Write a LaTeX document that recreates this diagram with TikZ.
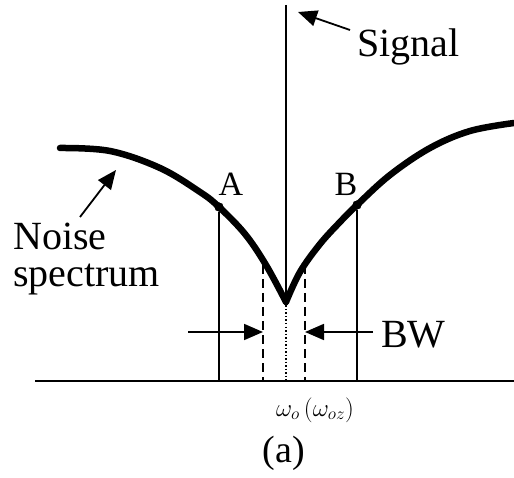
\documentclass[tikz,border=0pt]{standalone}
\usepackage{fontspec}
\setmainfont{Liberation Serif}
\usetikzlibrary{arrows.meta}
\begin{document}
\begin{tikzpicture}[x=1pt,y=-1pt,
  thinline/.style={line width=1.8pt},
  curve/.style={line width=6.5pt,line cap=round,line join=round},
  arr/.style={thinline,-{Triangle[length=19pt,width=16pt]}},
  lbl/.style={font=\rmfamily\fontsize{40}{37}\selectfont,inner sep=0pt},
  ptlbl/.style={font=\rmfamily\fontsize{34}{38}\selectfont,inner sep=0pt},
  dot/.style={circle,fill=black,inner sep=0pt,minimum size=9pt}]
\useasboundingbox (0,0) rectangle (514,478);
% key points
\coordinate (L0) at (35,381);
\coordinate (R0) at (514,381);
\coordinate (top) at (286,5);
\coordinate (notch) at (286,302);
\coordinate (base) at (286,381);
\node[dot] (A) at (219,207) {};
\node[dot] (B) at (357,205) {};
\coordinate (Abase) at (219,381);
\coordinate (Bbase) at (357,381);
\coordinate (dLt) at (263,265);
\coordinate (dLb) at (263,381);
\coordinate (dRt) at (305,265);
\coordinate (dRb) at (305,381);
% baseline
\draw[thinline] (L0) -- (R0);
% signal line
\draw[thinline] (top) -- (notch);
\draw[line width=1.5pt,dotted] (notch) -- (base);
% A, B verticals
\draw[thinline] (A) -- (Abase);
\draw[thinline] (B) -- (Bbase);
% dashed bandwidth lines
\draw[thinline,dash pattern=on 9pt off 5pt] (dLt) -- (dLb);
\draw[thinline,dash pattern=on 9pt off 5pt] (dRt) -- (dRb);
% noise spectrum
\draw[curve] plot[smooth,tension=0.6] coordinates {(60,148) (110,151) (160,168) (200,192) (219,207) (245,234) (266,265) (286,302)};
\draw[curve] plot[smooth,tension=0.6] coordinates {(286,302) (300,272) (320,244) (340,222) (357,205) (390,175) (430,148) (470,131) (514,123)};
\node[dot] at (A) {};
\node[dot] at (B) {};
% BW arrows
\coordinate (bwl) at (188,332);
\coordinate (bwr) at (373,332);
\draw[arr] (bwl) -- (dLb |- bwl);
\draw[arr] (bwr) -- (dRb |- bwr);
% labels
\node[ptlbl] (Alab) at (231,184) {A};
\node[ptlbl] (Blab) at (346,184) {B};
\node[lbl,anchor=base west] (sig) at (357,57) {Signal};
\coordinate (sigtail) at (350,30);
\coordinate (sighead) at (298,12);
\draw[arr] (sigtail) -- (sighead);
\node[lbl,anchor=base west] (bw) at (381,348) {BW};
\node[lbl,anchor=base west,align=left] (noise) at (13,287) {Noise\\spectrum};
\coordinate (ntail) at (80,217);
\coordinate (nhead) at (116,170);
\draw[arr] (ntail) -- (nhead);
\node[font=\rmfamily\fontsize{27}{30}\selectfont,inner sep=0pt] (omega) at (315,410) {$\omega_o\,(\omega_{oz})$};
\node[font=\rmfamily\fontsize{38}{42}\selectfont,inner sep=0pt] (cap) at (284,453) {(a)};
\end{tikzpicture}
\end{document}
